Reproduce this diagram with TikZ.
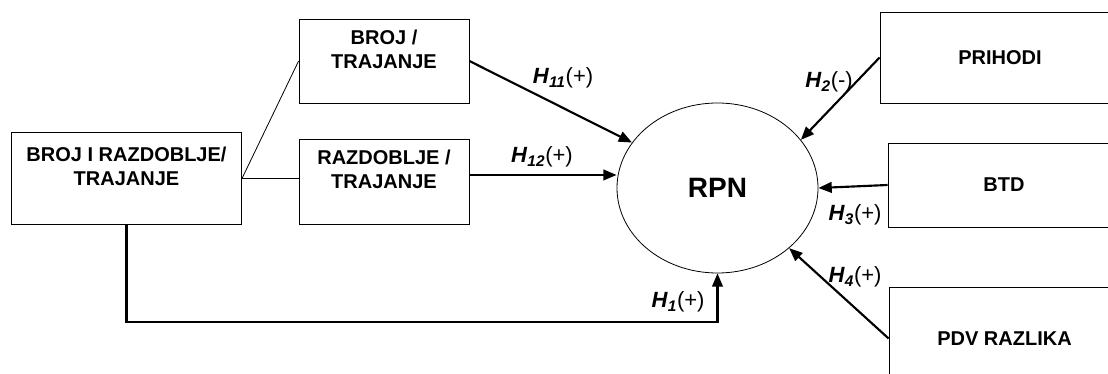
\documentclass[tikz,border=0pt]{standalone}
\usepackage{fontspec}
\setmainfont{Liberation Sans}
\usetikzlibrary{shapes, arrows.meta, positioning, calc}

\tikzset{
	box/.style={draw, rectangle, line width=0.6pt, inner sep=0pt, align=center, font=\fontsize{15}{18}\selectfont\bfseries},
	arr/.style={-{Triangle[length=10pt,width=8pt]}, line width=1.6pt},
	thin line/.style={line width=0.6pt},
	lab/.style={font=\fontsize{16.5}{18}\selectfont, inner sep=0pt},
}
\newcommand{\hyp}[2]{\textbf{\textit{H}}\textsubscript{\textbf{\textit{#1}}}(#2)}

\begin{document}
\begin{tikzpicture}[x=0.75pt, y=-0.75pt]
		\useasboundingbox (0,0) rectangle (1108,374);
		\clip (0,0) rectangle (1108,374);
		\node[box, minimum width=173pt, minimum height=69pt] (nr) at (126.5,178) {BROJ I RAZDOBLJE/\\TRAJANJE\\\mbox{}};
		\node[box, minimum width=127.5pt, minimum height=63pt] (broj) at (384,61) {BROJ /\\TRAJANJE\\\mbox{}};
		\node[box, minimum width=127.5pt, minimum height=63.75pt] (razd) at (384,181.5) {RAZDOBLJE /\\TRAJANJE\\\mbox{}};
		\node[draw, ellipse, line width=0.6pt, inner sep=0pt, minimum width=150.75pt, minimum height=127.5pt, font=\fontsize{21}{24}\selectfont\bfseries] (rpn) at (717.5,188) {RPN};
		\node[box, minimum width=180pt, minimum height=68.25pt] (prih) at (1000,57.5) {PRIHODI};
		\node[box, minimum width=174pt, minimum height=63pt] (btd) at (1004,185) {BTD};
		\node[box, minimum width=173.25pt, minimum height=77.25pt] (pdv) at (1004.5,338.5) {PDV RAZLIKA};
		% connectors
		\draw[thin line] (nr.east) -- (broj.west);
		\draw[thin line] (nr.east) -- (nr.east -| razd.west);
		\draw[arr] (nr.south) -- ++(0,98) -| (rpn.south);
		\draw[arr] ([yshift=4.9pt]razd.east) -- ([yshift=4.9pt]razd.east -| rpn.west);
		\foreach \from/\to in {broj.east/rpn.152, prih.west/rpn.30, btd.west/rpn.east, pdv.west/rpn.-40}
			\draw[arr] (\from) -- (\to);
		% labels
		\node[lab] (l11) at (563,78) {\hyp{11}{+}};
		\node[lab] (l12) at (542,157) {\hyp{12}{+}};
		\node[lab] (l2) at (829,82) {\hyp{2}{-}};
		\node[lab] (l3) at (855,215) {\hyp{3}{+}};
		\node[lab] (l4) at (855,277) {\hyp{4}{+}};
		\node[lab] (l1) at (678,302) {\hyp{1}{+}};
	\end{tikzpicture}
\end{document}
